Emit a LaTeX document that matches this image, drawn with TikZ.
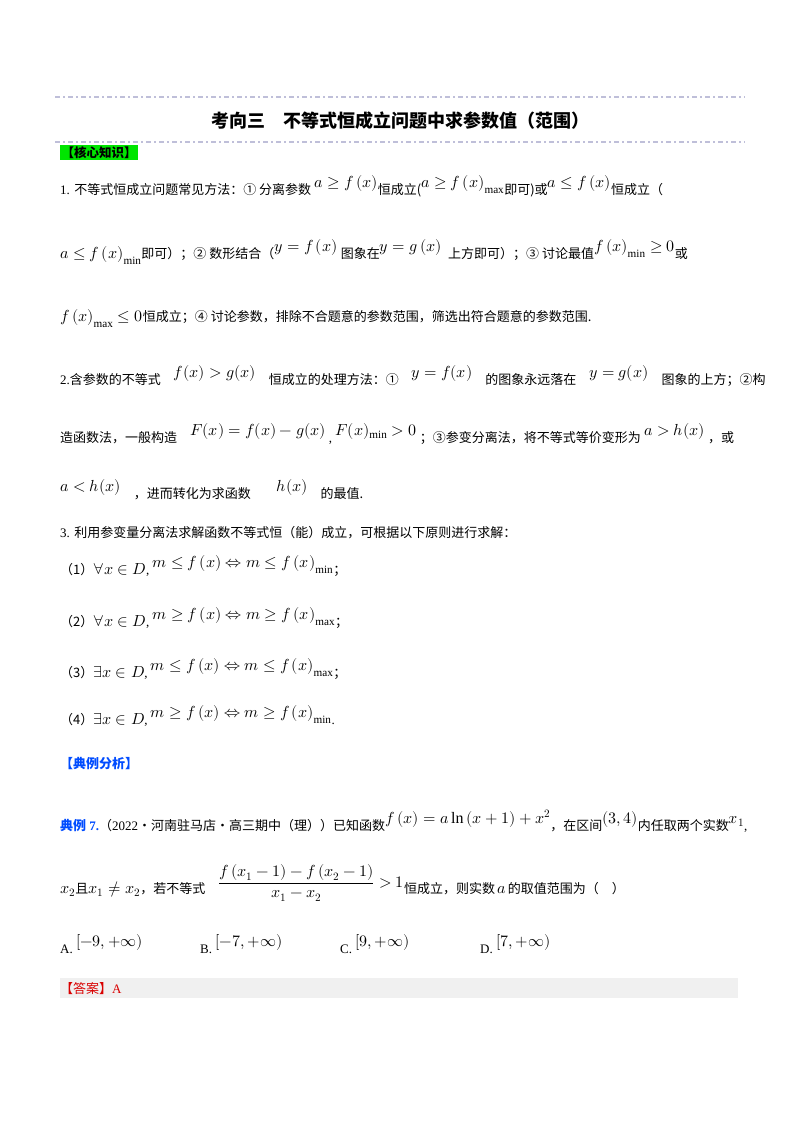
\documentclass[tikz,border=0pt]{standalone}
\usepackage{amsmath}
\usepackage{unicode-math}
\setmainfont{Liberation Serif}
\setmathfont{Latin Modern Math}
\newfontfamily\cjk{Noto Sans CJK SC}
\begin{document}
\begin{tikzpicture}[x=1pt,y=-1pt,
  txt/.style={anchor=base west,inner sep=0pt,font=\fontsize{13}{15}\selectfont},
  dline/.style={draw=blue!25!gray!40,line width=1.6pt,dash pattern=on 5pt off 3pt on 2pt off 3pt}]
\useasboundingbox[fill=white] (0,0) rectangle (800,1132);
\newcommand\M[1]{{\fontsize{16}{18}\selectfont$#1$}}
\newcommand\R[1]{\raisebox{7pt}{\M{#1}}}
\draw[dline] (55,97) -- (745,97);
\node[anchor=base,inner sep=0pt,font=\fontsize{18}{20}\selectfont\bfseries] (title) at (400,127) {{\cjk 考向三\quad 不等式恒成立问题中求参数值（范围）}};
\draw[dline] (55,142) -- (745,142);
\node[fill=green!90!black,txt,anchor=north west,inner sep=1.5pt,font=\fontsize{12.5}{14}\selectfont\bfseries] (k) at (60,145) {{\cjk 【核心知识】}};
\node[txt] (l1) at (60,194) {1. {\cjk 不等式恒成立问题常见方法：① 分离参数} \R{a\geq f\left(x\right)}{\cjk 恒成立(}\R{a\geq f\left(x\right)_{\max}}{\cjk 即可)或}\R{a\leq f\left(x\right)}{\cjk 恒成立（}};
\node[txt] (l2) at (60,258) {\M{a\leq f\left(x\right)_{\min}}{\cjk 即可）；② 数形结合（}\R{y=f\left(x\right)}\ {\cjk 图象在}\R{y=g\left(x\right)}\ \ {\cjk 上方即可）；③ 讨论最值}\R{f\left(x\right)_{\min}\geq 0}{\cjk 或}};
\node[txt] (l3) at (60,321) {\M{f\left(x\right)_{\max}\leq 0}{\cjk 恒成立；④ 讨论参数，排除不合题意的参数范围，筛选出符合题意的参数范围.}};
\node[txt] (l4) at (60,384) {2.{\cjk 含参数的不等式}\quad\R{f(x)>g(x)}\quad{\cjk 恒成立的处理方法：①}\quad\R{y=f(x)}\quad{\cjk 的图象永远落在}\quad\R{y=g(x)}\quad{\cjk 图象的上方；②构}};
\node[txt] (l5) at (60,442) {{\cjk 造函数法，一般构造}\quad\R{F(x)=f(x)-g(x)}\ ,\ \R{F(x)_{\min}>0}\ {\cjk ；③参变分离法，将不等式等价变形为}\ \R{a>h(x)}\ {\cjk ，或}};
\node[txt] (l6) at (60,498) {\R{a<h(x)}\quad{\cjk ，进而转化为求函数}\qquad\R{h(x)}\quad{\cjk 的最值.}};
\node[txt] (l7) at (60,537) {3. {\cjk 利用参变量分离法求解函数不等式恒（能）成立，可根据以下原则进行求解：}};
\node[txt] (l8) at (60,574) {{\cjk （1）}\M{\forall x\in D}, \R{m\leq f\left(x\right)\Leftrightarrow m\leq f\left(x\right)_{\min}}{\cjk ；}};
\node[txt] (l9) at (60,626) {{\cjk （2）}\M{\forall x\in D}, \R{m\geq f\left(x\right)\Leftrightarrow m\geq f\left(x\right)_{\max}}{\cjk ；}};
\node[txt] (l10) at (60,677) {{\cjk （3）}\M{\exists x\in D}, \R{m\leq f\left(x\right)\Leftrightarrow m\leq f\left(x\right)_{\max}}{\cjk ；}};
\node[txt] (l11) at (60,724) {{\cjk （4）}\M{\exists x\in D}, \R{m\geq f\left(x\right)\Leftrightarrow m\geq f\left(x\right)_{\min}}.};
\node[txt,text=blue!70!cyan,font=\fontsize{13}{15}\selectfont\bfseries] (dl) at (60,768) {{\cjk 【典例分析】}};
\node[txt] (e1) at (60,830) {{\color{blue!70!cyan}\bfseries{\cjk 典例} 7.}{\cjk （}2022{\cjk ·河南驻马店·高三期中（理））已知函数}\R{f\left(x\right)=a\ln\left(x+1\right)+x^2}{\cjk ，在区间}\R{\left(3,4\right)}{\cjk 内任取两个实数}\R{x_1},};
\node[txt] (e2) at (60,893) {\M{x_2}{\cjk 且}\M{x_1\neq x_2}{\cjk ，若不等式}\quad\raisebox{6pt}{\M{\dfrac{f\left(x_1-1\right)-f\left(x_2-1\right)}{x_1-x_2}>1}}{\cjk 恒成立，则实数}\,\M{a}\,{\cjk 的取值范围为（\quad ）}};
\node[txt] (oa) at (60,953) {A.\ \R{\left[-9,+\infty\right)}};
\node[txt] (ob) at (200,953) {B.\ \R{\left[-7,+\infty\right)}};
\node[txt] (oc) at (340,953) {C.\ \R{\left[9,+\infty\right)}};
\node[txt] (od) at (480,953) {D.\ \R{\left[7,+\infty\right)}};
\fill[gray!12] (60,978) rectangle (738,998);
\node[txt,text=red!85!black] (ans) at (60,993) {{\cjk 【答案】}A};
\end{tikzpicture}
\end{document}
